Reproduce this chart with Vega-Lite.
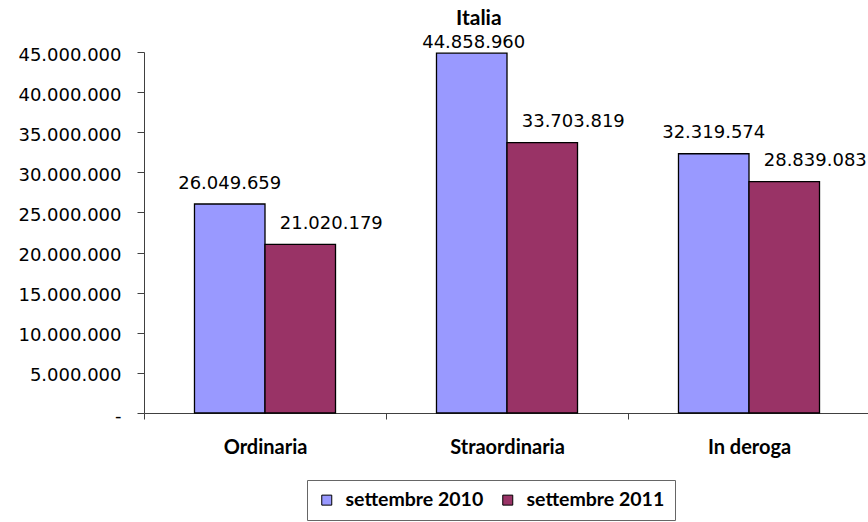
{
  "$schema": "https://vega.github.io/schema/vega-lite/v6.json",
  "autosize": {"type": "none"},
  "padding": {"left": 144, "top": 52, "right": 0, "bottom": 109},
  "width": 726,
  "height": 361,
  "background": "white",
  "config": {
    "locale": {"number": {"decimal": ",", "thousands": ".", "grouping": [3], "currency": ["€", ""]}},
    "view": {"stroke": null}
  },
  "title": {
    "text": "Italia",
    "font": "Lato",
    "fontWeight": "bold",
    "fontSize": 21,
    "color": "black",
    "anchor": "start",
    "frame": "group",
    "dx": 312,
    "baseline": "alphabetic",
    "offset": -12
  },
  "data": {
    "values": [
      {"categoria": "Ordinaria", "periodo": "settembre 2010", "valore": 26049659},
      {"categoria": "Ordinaria", "periodo": "settembre 2011", "valore": 21020179},
      {"categoria": "Straordinaria", "periodo": "settembre 2010", "valore": 44858960},
      {"categoria": "Straordinaria", "periodo": "settembre 2011", "valore": 33703819},
      {"categoria": "In deroga", "periodo": "settembre 2010", "valore": 32319574},
      {"categoria": "In deroga", "periodo": "settembre 2011", "valore": 28839083}
    ]
  },
  "encoding": {
    "x": {
      "field": "categoria",
      "type": "nominal",
      "sort": ["Ordinaria", "Straordinaria", "In deroga"],
      "scale": {"paddingInner": 0, "paddingOuter": 0},
      "axis": {
        "title": null,
        "labelAngle": 0,
        "labelFont": "Lato",
        "labelFontWeight": "bold",
        "labelFontSize": 20,
        "labelColor": "black",
        "labelBaseline": "alphabetic",
        "labelPadding": 34,
        "tickBand": "extent",
        "tickSize": 6,
        "tickColor": "#404040",
        "domainColor": "#404040",
        "grid": false
      }
    },
    "xOffset": {
      "field": "periodo",
      "type": "nominal",
      "scale": {"paddingInner": 0, "paddingOuter": 0.716}
    },
    "y": {
      "field": "valore",
      "type": "quantitative",
      "scale": {"domain": [0, 45000000], "nice": false},
      "axis": {
        "title": null,
        "values": [0, 5000000, 10000000, 15000000, 20000000, 25000000, 30000000, 35000000, 40000000, 45000000],
        "format": ",d",
        "labelExpr": "datum.value === 0 ? '-' : datum.label",
        "labelFont": "DejaVu Sans",
        "labelFontSize": 18,
        "labelColor": "black",
        "labelPadding": 16,
        "labelOffset": 3,
        "tickSize": 7,
        "tickColor": "#404040",
        "domainColor": "#404040",
        "grid": false
      }
    }
  },
  "layer": [
    {
      "mark": {"type": "bar", "stroke": "black", "strokeWidth": 1.3},
      "encoding": {
        "color": {
          "field": "periodo",
          "type": "nominal",
          "scale": {"domain": ["settembre 2010", "settembre 2011"], "range": ["#9999FF", "#993366"]},
          "legend": {
            "title": null,
            "orient": "none",
            "legendX": 163,
            "legendY": 428,
            "direction": "horizontal",
            "strokeColor": "#666666",
            "padding": 10,
            "symbolType": "square",
            "symbolSize": 100,
            "symbolStrokeColor": "black",
            "symbolStrokeWidth": 1,
            "labelFont": "Lato",
            "labelFontWeight": "bold",
            "labelFontSize": 19.5,
            "labelColor": "black",
            "labelOffset": 9,
            "columnPadding": 14
          }
        }
      }
    },
    {
      "transform": [{"filter": "datum.periodo === 'settembre 2010' && datum.valore < 40000000"}],
      "mark": {"type": "text", "font": "DejaVu Sans", "fontSize": 18, "color": "black", "baseline": "alphabetic", "dy": -15.5},
      "encoding": {"text": {"field": "valore", "type": "quantitative", "format": ",d"}}
    },
    {
      "transform": [{"filter": "datum.periodo === 'settembre 2010' && datum.valore >= 40000000"}],
      "mark": {"type": "text", "font": "DejaVu Sans", "fontSize": 18, "color": "black", "baseline": "alphabetic", "dy": -5, "dx": 2},
      "encoding": {"text": {"field": "valore", "type": "quantitative", "format": ",d"}}
    },
    {
      "transform": [{"filter": "datum.periodo === 'settembre 2011'"}],
      "mark": {"type": "text", "font": "DejaVu Sans", "fontSize": 18, "color": "black", "baseline": "alphabetic", "dy": -15.5, "dx": 31},
      "encoding": {"text": {"field": "valore", "type": "quantitative", "format": ",d"}}
    }
  ]
}
